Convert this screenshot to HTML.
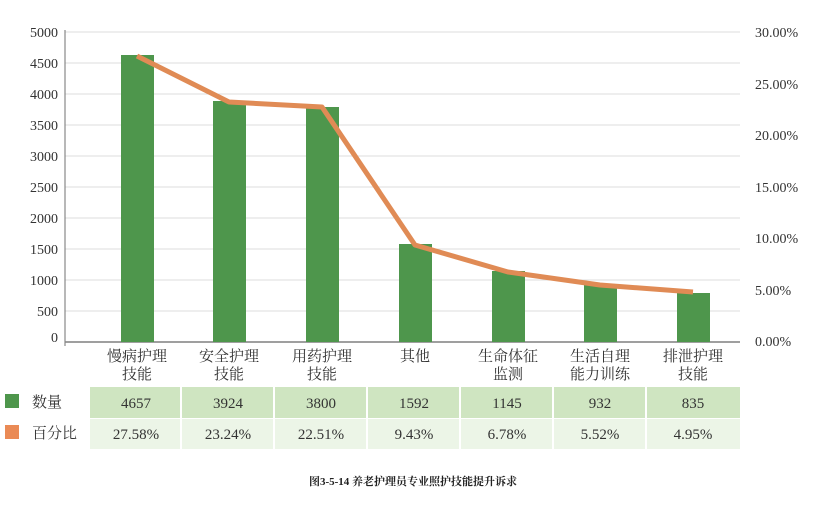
<!DOCTYPE html>
<html><head><meta charset="utf-8"><style>
body{margin:0;background:#fff;}
svg text{font-family:"Liberation Serif","Noto Serif CJK SC",serif;fill:#333;}
</style></head><body>
<svg width="827" height="506" viewBox="0 0 827 506" xmlns="http://www.w3.org/2000/svg">
<g stroke="#dcdcdc" stroke-width="1">
<line x1="65" x2="740" y1="32" y2="32"/><line x1="65" x2="740" y1="63" y2="63"/>
<line x1="65" x2="740" y1="94" y2="94"/><line x1="65" x2="740" y1="125" y2="125"/>
<line x1="65" x2="740" y1="156" y2="156"/><line x1="65" x2="740" y1="187" y2="187"/>
<line x1="65" x2="740" y1="218" y2="218"/><line x1="65" x2="740" y1="249" y2="249"/>
<line x1="65" x2="740" y1="280" y2="280"/><line x1="65" x2="740" y1="311" y2="311"/>
</g>
<line x1="65" x2="740" y1="342" y2="342" stroke="#666" stroke-width="1.2"/>
<line x1="65" x2="65" y1="30" y2="346" stroke="#888" stroke-width="1.2"/>
<g font-size="14" text-anchor="end">
<text x="58" y="37">5000</text><text x="58" y="68">4500</text><text x="58" y="99">4000</text>
<text x="58" y="130">3500</text><text x="58" y="161">3000</text><text x="58" y="192">2500</text>
<text x="58" y="223">2000</text><text x="58" y="254">1500</text><text x="58" y="285">1000</text>
<text x="58" y="316">500</text><text x="58" y="342">0</text>
</g>
<g font-size="14">
<text x="755" y="37">30.00%</text><text x="755" y="89">25.00%</text><text x="755" y="140">20.00%</text>
<text x="755" y="192">15.00%</text><text x="755" y="243">10.00%</text><text x="755" y="295">5.00%</text>
<text x="755" y="346">0.00%</text>
</g>
<g fill="#4e964c">
<rect x="121" y="55" width="33" height="287"/>
<rect x="213" y="101" width="33" height="241"/>
<rect x="306" y="107" width="33" height="235"/>
<rect x="399" y="244" width="33" height="98"/>
<rect x="492" y="271" width="33" height="71"/>
<rect x="584" y="284" width="33" height="58"/>
<rect x="677" y="293" width="33" height="49"/>
</g>
<polyline points="137,56 229,102 322,107 415,245 508,272 600,285 693,292" fill="none" stroke="#e08b55" stroke-width="5" stroke-linejoin="round"/>
<g font-size="15" text-anchor="middle">
<text x="137" y="361">慢病护理</text><text x="137" y="379">技能</text>
<text x="229" y="361">安全护理</text><text x="229" y="379">技能</text>
<text x="322" y="361">用药护理</text><text x="322" y="379">技能</text>
<text x="415" y="361">其他</text>
<text x="508" y="361">生命体征</text><text x="508" y="379">监测</text>
<text x="600" y="361">生活自理</text><text x="600" y="379">能力训练</text>
<text x="693" y="361">排泄护理</text><text x="693" y="379">技能</text>
</g>
<rect x="90" y="387" width="650" height="31" fill="#cfe5c1"/>
<rect x="90" y="419" width="650" height="30" fill="#ecf5e7"/>
<g stroke="#fff" stroke-width="2">
<line x1="181" x2="181" y1="387" y2="449"/><line x1="274" x2="274" y1="387" y2="449"/>
<line x1="367" x2="367" y1="387" y2="449"/><line x1="460" x2="460" y1="387" y2="449"/>
<line x1="553" x2="553" y1="387" y2="449"/><line x1="646" x2="646" y1="387" y2="449"/>
</g>
<rect x="5" y="394" width="14" height="14" fill="#4e964c"/>
<rect x="5" y="425" width="14" height="14" fill="#ea8a55"/>
<text x="32" y="407" font-size="15">数量</text>
<text x="32" y="438" font-size="15">百分比</text>
<g font-size="15" text-anchor="middle">
<text x="136" y="408">4657</text><text x="228" y="408">3924</text><text x="321" y="408">3800</text>
<text x="414" y="408">1592</text><text x="507" y="408">1145</text><text x="600" y="408">932</text><text x="693" y="408">835</text>
<text x="136" y="439">27.58%</text><text x="228" y="439">23.24%</text><text x="321" y="439">22.51%</text>
<text x="414" y="439">9.43%</text><text x="507" y="439">6.78%</text><text x="600" y="439">5.52%</text><text x="693" y="439">4.95%</text>
</g>
<text x="413" y="485" font-size="11" font-weight="bold" text-anchor="middle" style="fill:#222">图3-5-14 养老护理员专业照护技能提升诉求</text>
</svg>
</body></html>
